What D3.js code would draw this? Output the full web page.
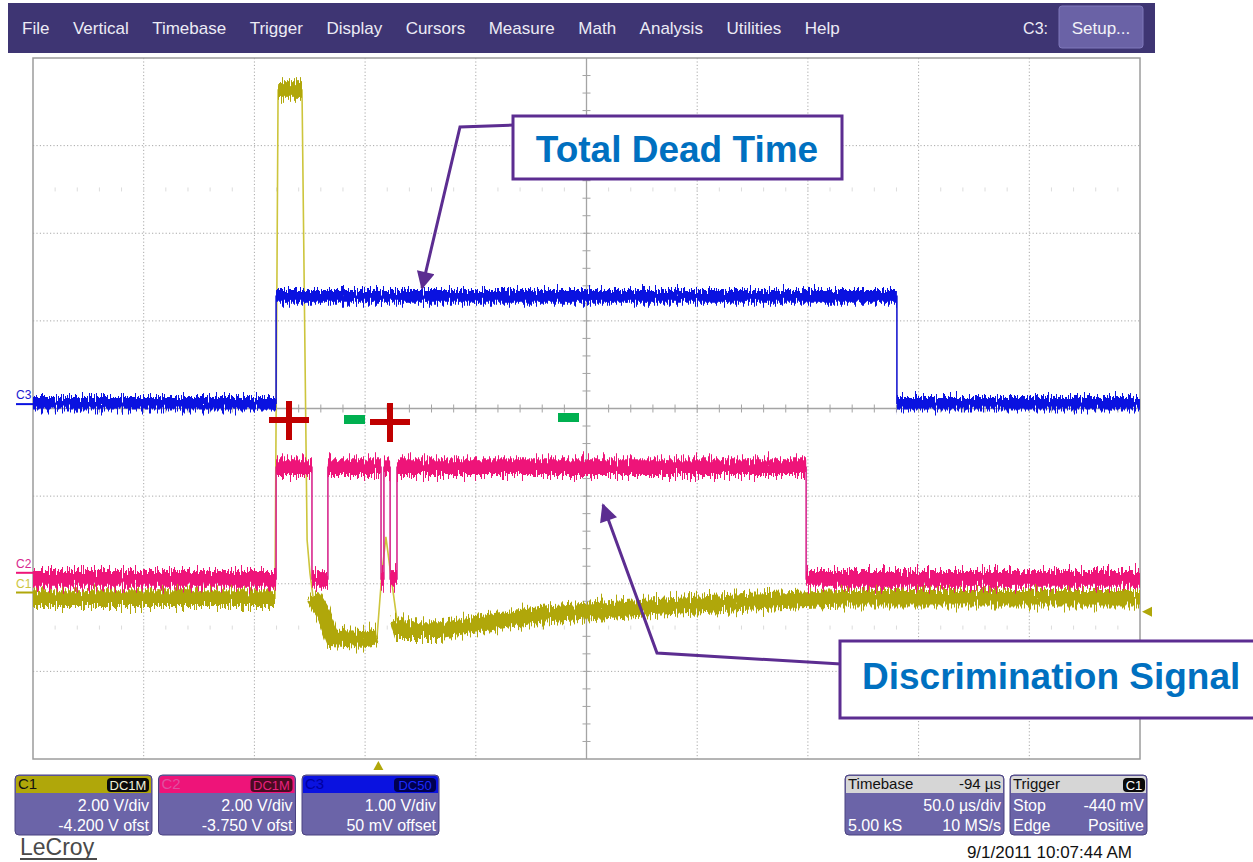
<!DOCTYPE html>
<html lang="en">
<head>
<meta charset="UTF-8">
<title>LeCroy dead time capture</title>
<script src="https://d3js.org/d3.v7.min.js"></script>
<style>
  body { margin: 0; background: #fff; overflow: hidden; }
  text { font-family: "Liberation Sans", Arial, sans-serif; }
</style>
</head>
<body>
<div id="scope"></div>
<script>
// ---- data ----
const menuItems = ["File", "Vertical", "Timebase", "Trigger", "Display", "Cursors", "Measure", "Math", "Analysis", "Utilities", "Help"];

const channels = ["C1", "C2", "C3"];
const voltsPerDiv = [2.0, 2.0, 1.0];
const offsets = [-4.2, -3.75, 0.05];
const coupling = ["DC1M", "DC1M", "DC50"];
const vdivLabels = ["2.00 V/div", "2.00 V/div", "1.00 V/div"];
const offsetLabels = ["-4.200 V ofst", "-3.750 V ofst", "50 mV offset"];
const noisePP = [0.46, 0.46, 0.18]; // volts peak-to-peak of the trace noise

const timebaseDelay = -94; // µs
const usPerDiv = 50;
const triggerLevel = -0.44; // V on C1
const timebaseRows = [["Timebase", "-94 µs"], ["", "50.0 µs/div"], ["5.00 kS", "10 MS/s"]];
const triggerRows = [["Trigger", "C1"], ["Stop", "-440 mV"], ["Edge", "Positive"]];
const stamp = "9/1/2011 10:07:44 AM";

// C1: detector pulse (time µs, volts)
const c1Time = [-156, -46.7, -45.3, -34.5, -32.2, -30.9, -29.5, -25.0, -21.0, -15.1, -7.4, -0.6, 1.6, 3.4, 6.1, 8.4, 9.8, 27.8, 73.0, 118.2, 163.3, 208.5, 344];
const c1Volts = [-0.13, -0.13, 11.47, 11.47, 1.20, 0.44, -0.10, -0.47, -1.02, -1.04, -1.06, -1.00, 0.44, 1.27, 0.22, -0.63, -0.86, -0.86, -0.51, -0.35, -0.22, -0.12, -0.12];
// C2: discrimination signal
const c2Time = [-156, -46.2, -46.2, -30.0, -30.0, -22.8, -22.8, 1.2, 1.2, 2.5, 2.5, 5.3, 5.3, 8.4, 8.4, 193.2, 193.2, 344];
const c2Volts = [-0.14, -0.14, 2.41, 2.41, -0.14, -0.14, 2.41, 2.41, -0.14, -0.14, 2.41, 2.41, -0.14, -0.14, 2.41, 2.41, -0.14, -0.14];
// C3: total dead time
const c3Time = [-156, -46.2, -46.2, 234.2, 234.2, 344];
const c3Volts = [0.01, 0.01, 1.23, 1.23, 0.01, 0.01];

// ---- layout ----
const W = 1253, H = 862;
const plot = {left: 33, right: 1140, top: 58, bottom: 759};
const traceColors = ["#b0a70a", "#ee1479", "#0a12e0"];
const thinColors = ["#cdc53c", "#d8288e", "#1a1ad0"];
const purple = "#5c2d91";

const svg = d3.select("#scope").append("svg")
    .attr("width", W).attr("height", H);
const defs = svg.append("defs");

const centreTime = -timebaseDelay;
const x = d3.scaleLinear()
    .domain([centreTime - 5 * usPerDiv, centreTime + 5 * usPerDiv])
    .range([plot.left, plot.right]);
const xDiv = d3.scaleLinear().domain([0, 10]).range([plot.left, plot.right]);
const yDiv = d3.scaleLinear().domain([-4, 4]).range([plot.bottom, plot.top]);
const yCh = i => v => yDiv((v + offsets[i]) / voltsPerDiv[i]);

// menu bar
svg.append("rect").attr("x", 8).attr("y", 3).attr("width", 1147).attr("height", 50).attr("fill", "#3e3573");
let mx = 22;
menuItems.forEach(m => {
  const t = svg.append("text").attr("x", mx).attr("y", 34).attr("font-size", 17).attr("fill", "#ecebf5").text(m);
  mx += t.node().getComputedTextLength() + 23.5;
});
svg.append("text").attr("x", 1048).attr("y", 34).attr("text-anchor", "end").attr("font-size", 16).attr("fill", "#ecebf5").text("C3:");
svg.append("rect").attr("x", 1059).attr("y", 6).attr("width", 84).attr("height", 42).attr("rx", 3)
    .attr("fill", "#6a62a6").attr("stroke", "#7f78bb");
svg.append("text").attr("x", 1101).attr("y", 34).attr("text-anchor", "middle").attr("font-size", 17).attr("fill", "#f2f2f8").text("Setup...");

// grid
const grid = svg.append("g");
grid.append("rect").attr("x", plot.left).attr("y", plot.top)
    .attr("width", plot.right - plot.left).attr("height", plot.bottom - plot.top).attr("fill", "#fff");
grid.selectAll(".vg").data(d3.range(1, 10).filter(d => d !== 5)).join("line")
    .attr("x1", d => xDiv(d)).attr("x2", d => xDiv(d)).attr("y1", plot.top).attr("y2", plot.bottom)
    .attr("stroke", "#a9a9a9").attr("stroke-dasharray", "1.2,2.2");
grid.selectAll(".hg").data(d3.range(-3, 4).filter(d => d !== 0)).join("line")
    .attr("y1", d => yDiv(d)).attr("y2", d => yDiv(d)).attr("x1", plot.left).attr("x2", plot.right)
    .attr("stroke", "#a9a9a9").attr("stroke-dasharray", "1.2,2.2");
[2.5, -2.5].forEach(r => {
  grid.selectAll(null).data(d3.range(1, 50)).join("line")
      .attr("x1", d => xDiv(d / 5)).attr("x2", d => xDiv(d / 5))
      .attr("y1", yDiv(r) - 2).attr("y2", yDiv(r) + 2)
      .attr("stroke", "#dcdcdc");
});
// centre axes with minor ticks
grid.append("line").attr("x1", xDiv(5)).attr("x2", xDiv(5)).attr("y1", plot.top).attr("y2", plot.bottom).attr("stroke", "#a4a4a4").attr("stroke-width", 1.3);
grid.append("line").attr("y1", yDiv(0)).attr("y2", yDiv(0)).attr("x1", plot.left).attr("x2", plot.right).attr("stroke", "#a4a4a4").attr("stroke-width", 1.3);
grid.selectAll(".ty").data(d3.range(-19, 20)).join("line")
    .attr("x1", xDiv(5) - 4).attr("x2", xDiv(5) + 4).attr("y1", d => yDiv(d / 5)).attr("y2", d => yDiv(d / 5))
    .attr("stroke", "#a4a4a4");
grid.selectAll(".tx").data(d3.range(1, 50)).join("line")
    .attr("y1", yDiv(0) - 4).attr("y2", yDiv(0) + 4).attr("x1", d => xDiv(d / 5)).attr("x2", d => xDiv(d / 5))
    .attr("stroke", "#a4a4a4");
grid.append("rect").attr("x", plot.left).attr("y", plot.top)
    .attr("width", plot.right - plot.left).attr("height", plot.bottom - plot.top)
    .attr("fill", "none").attr("stroke", "#9c9c9c").attr("stroke-width", 1.5);

// noise texture filters (vertical jitter only)
function noiseFilter(id, seed, amp) {
  const f = defs.append("filter").attr("id", id).attr("filterUnits", "userSpaceOnUse")
      .attr("x", 0).attr("y", 0).attr("width", W).attr("height", H)
      .attr("color-interpolation-filters", "sRGB");
  [0, 1].forEach(k => {
    f.append("feTurbulence").attr("type", "fractalNoise").attr("baseFrequency", "0.85 0.0001")
        .attr("numOctaves", 2).attr("seed", seed + k * 11).attr("result", "t" + k);
    f.append("feColorMatrix").attr("in", "t" + k).attr("type", "matrix")
        .attr("values", "0 0 0 0 0.5  0 1 0 0 0  0 0 1 0 0  0 0 0 0 1").attr("result", "m" + k);
    f.append("feDisplacementMap").attr("in", "SourceGraphic").attr("in2", "m" + k).attr("scale", amp)
        .attr("xChannelSelector", "R").attr("yChannelSelector", "G").attr("result", "d" + k);
  });
  const mg = f.append("feMerge");
  mg.append("feMergeNode").attr("in", "d0");
  mg.append("feMergeNode").attr("in", "d1");
}

const divPx = yDiv(0) - yDiv(1);
const series = [[c1Time, c1Volts], [c2Time, c2Volts], [c3Time, c3Volts]];
const line = d3.line();

const traces = svg.append("g");
series.forEach(([ts, vs], i) => {
  const ys = yCh(i);
  const pts = ts.map((t, k) => [x(t), ys(vs[k])]);
  const ppPx = noisePP[i] / voltsPerDiv[i] * divPx;
  noiseFilter("noise" + i, 3 + i * 5, ppPx * 1.6);

  // split into settled pieces (noise band) and fast edges (thin line)
  const pieces = [];
  let cur = [];
  for (let k = 0; k < pts.length - 1; k++) {
    const p = pts[k], q = pts[k + 1];
    const steep = Math.abs(q[1] - p[1]) > 3 * Math.abs(q[0] - p[0]) + 6;
    if (steep) { if (cur.length) pieces.push(cur); cur = []; }
    else { if (!cur.length) cur.push(p); cur.push(q); }
  }
  if (cur.length) pieces.push(cur);

  traces.append("path").attr("d", line(pts)).attr("fill", "none")
      .attr("stroke", thinColors[i]).attr("stroke-width", 1.6);
  traces.append("g").attr("filter", "url(#noise" + i + ")")
    .selectAll("path").data(pieces).join("path")
      .attr("d", line).attr("fill", "none")
      .attr("stroke", traceColors[i]).attr("stroke-width", ppPx * 0.68);
});

// channel ground markers
channels.forEach((c, i) => {
  const y0 = yCh(i)(0);
  svg.append("line").attr("x1", 16).attr("x2", plot.left).attr("y1", y0).attr("y2", y0)
      .attr("stroke", traceColors[i]).attr("stroke-width", 2);
  svg.append("text").attr("x", 16).attr("y", y0 - 5).attr("font-size", 12).attr("fill", thinColors[i]).text(c);
});

// trigger markers
const trigX = x(0);
svg.append("path").attr("d", `M${trigX},${plot.bottom + 2} l-5,9 h10 z`).attr("fill", traceColors[0]);
const trigY = yCh(0)(triggerLevel);
svg.append("path").attr("d", `M${plot.right + 2},${trigY} l10,-5 v10 z`).attr("fill", traceColors[0]);

// + / - markers
const marks = svg.append("g");
[[289, 420], [390, 422]].forEach(([cx, cy]) => {
  marks.append("rect").attr("x", cx - 20).attr("y", cy - 3).attr("width", 40).attr("height", 6).attr("fill", "#c00000");
  marks.append("rect").attr("x", cx - 3).attr("y", cy - 19).attr("width", 6).attr("height", 39).attr("fill", "#c00000");
});
[[344, 415], [558, 413]].forEach(([cx, cy]) => {
  marks.append("rect").attr("x", cx).attr("y", cy).attr("width", 21).attr("height", 9).attr("fill", "#00b050");
});

// callouts
defs.append("marker").attr("id", "arrow").attr("viewBox", "0 0 10 10").attr("refX", 9).attr("refY", 5)
    .attr("markerUnits", "userSpaceOnUse").attr("markerWidth", 22).attr("markerHeight", 18).attr("orient", "auto")
  .append("path").attr("d", "M0,0 L10,5 L0,10 z").attr("fill", purple);

svg.append("path").attr("d", "M514,125 L460,127 L422,288").attr("fill", "none")
    .attr("stroke", purple).attr("stroke-width", 3).attr("marker-end", "url(#arrow)");
svg.append("rect").attr("x", 513).attr("y", 116).attr("width", 329).attr("height", 63)
    .attr("fill", "#fff").attr("stroke", purple).attr("stroke-width", 3);
svg.append("text").attr("x", 677).attr("y", 162).attr("text-anchor", "middle")
    .attr("font-size", 37).attr("font-weight", "bold").attr("fill", "#0070c0").text("Total Dead Time");

svg.append("path").attr("d", "M841,664 L657,653 L603,505").attr("fill", "none")
    .attr("stroke", purple).attr("stroke-width", 3).attr("marker-end", "url(#arrow)");
svg.append("rect").attr("x", 840).attr("y", 641).attr("width", 430).attr("height", 77)
    .attr("fill", "#fff").attr("stroke", purple).attr("stroke-width", 3);
svg.append("text").attr("x", 862).attr("y", 689)
    .attr("font-size", 37).attr("font-weight", "bold").attr("fill", "#0070c0").text("Discrimination Signal");

// info panels
const panelTop = 775, panelH = 60, headH = 18;
function panel(x0, w, headFill, headText, headColor) {
  const g = svg.append("g");
  g.append("rect").attr("x", x0).attr("y", panelTop).attr("width", w).attr("height", panelH).attr("rx", 4)
      .attr("fill", "#6b64a8").attr("stroke", "#4a4280");
  g.append("path").attr("d", `M${x0 + 1},${panelTop + headH} v-${headH - 4} q0,-3 3,-3 h${w - 8} q3,0 3,3 v${headH - 4} z`)
      .attr("fill", headFill);
  g.append("text").attr("x", x0 + 3).attr("y", panelTop + 14).attr("font-size", 15).attr("fill", headColor).text(headText);
  return g;
}
function badge(g, xr, label, fill, color) {
  g.append("rect").attr("x", xr - 44).attr("y", panelTop + 3).attr("width", 42).attr("height", 14).attr("rx", 4).attr("fill", fill);
  g.append("text").attr("x", xr - 23).attr("y", panelTop + 15).attr("text-anchor", "middle")
      .attr("font-size", 13).attr("fill", color).text(label);
}
const badgeFill = ["#0a0a0a", "#4a0a22", "#000050"];
const badgeText = ["#f0f0d8", "#e8207e", "#1a2aff"];
const headLabel = ["#111", "#e050a0", "#0000a0"];
channels.forEach((c, i) => {
  const x0 = 15 + i * 143.5, w = 137;
  const g = panel(x0, w, traceColors[i], c, headLabel[i]);
  badge(g, x0 + w - 1, coupling[i], badgeFill[i], badgeText[i]);
  g.append("text").attr("x", x0 + w - 3).attr("y", 811).attr("text-anchor", "end").attr("font-size", 16).attr("fill", "#fff").text(vdivLabels[i]);
  g.append("text").attr("x", x0 + w - 3).attr("y", 831).attr("text-anchor", "end").attr("font-size", 16).attr("fill", "#fff").text(offsetLabels[i]);
});

const tb = panel(845, 159, "#d6d6d6", timebaseRows[0][0], "#111");
tb.append("text").attr("x", 1001).attr("y", panelTop + 14).attr("text-anchor", "end").attr("font-size", 15).attr("fill", "#111").text(timebaseRows[0][1]);
const tr = panel(1010, 137, "#d6d6d6", triggerRows[0][0], "#111");
tr.append("rect").attr("x", 1123).attr("y", panelTop + 3).attr("width", 22).attr("height", 14).attr("rx", 4).attr("fill", "#0a0a0a");
tr.append("text").attr("x", 1134).attr("y", panelTop + 15).attr("text-anchor", "middle").attr("font-size", 13).attr("fill", "#fff").text(triggerRows[0][1]);
[[tb, 845, 159, timebaseRows], [tr, 1010, 137, triggerRows]].forEach(([g, x0, w, rows]) => {
  rows.slice(1).forEach((r, k) => {
    const yy = 811 + k * 20;
    g.append("text").attr("x", x0 + 3).attr("y", yy).attr("font-size", 16).attr("fill", "#fff").text(r[0]);
    g.append("text").attr("x", x0 + w - 3).attr("y", yy).attr("text-anchor", "end").attr("font-size", 16).attr("fill", "#fff").text(r[1]);
  });
});

svg.append("text").attr("x", 20).attr("y", 855).attr("font-size", 23).attr("fill", "#4a4a4a").text("LeCroy");
svg.append("line").attr("x1", 20).attr("x2", 97).attr("y1", 859).attr("y2", 859).attr("stroke", "#4a4a4a").attr("stroke-width", 2);
svg.append("text").attr("x", 1132).attr("y", 858).attr("text-anchor", "end").attr("font-size", 17).attr("fill", "#111").text(stamp);
</script>
</body>
</html>
